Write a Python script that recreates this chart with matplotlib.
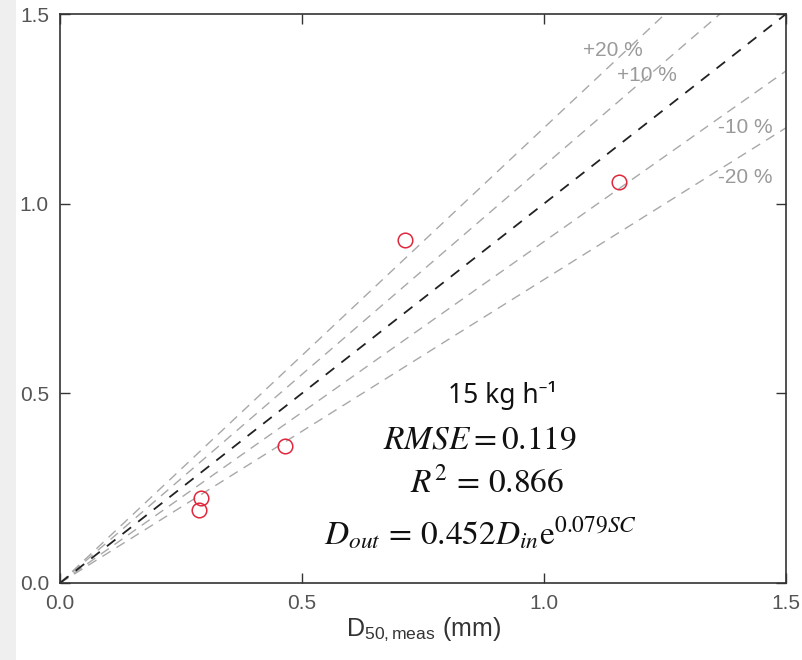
import matplotlib
matplotlib.use('Agg')
import numpy as np
import matplotlib.pyplot as plt
from matplotlib.patches import Rectangle

plt.rcParams['font.family'] = ['Liberation Sans', 'DejaVu Sans']
plt.rcParams['mathtext.fontset'] = 'stix'

# Medidos vs. previstos (mm)
d50_meas = [1.155, 0.713, 0.465, 0.291, 0.287]
d50_pred = [1.057, 0.904, 0.361, 0.224, 0.192]

# Faixas de erro relativo em torno da linha 1:1
faixas = [0.20, 0.10, -0.10, -0.20]
rotulos_faixas = ['+20 %', '+10 %', '-10 %', '-20 %']
pos_rotulos = [(1.143, 1.405), (1.213, 1.339), (1.415, 1.202), (1.415, 1.070)]

ticks = [0.0, 0.5, 1.0, 1.5]
tick_labels = ['0.0', '0.5', '1.0', '1.5']

fig = plt.figure(figsize=(8.03, 6.60), dpi=100)
fig.patches.append(Rectangle((0, 0), 16 / 803, 1, transform=fig.transFigure,
                             facecolor='#efefef', edgecolor='none', zorder=0))
ax = fig.add_axes([60 / 803, 77 / 660, 726 / 803, 569 / 660])

x = np.linspace(0, 1.5, 200)
for f in faixas:
    ax.plot(x, x * (1 + f), color='#a8a8a8', lw=1.0, dashes=(7, 5), zorder=1)
ax.plot(x, x, color='#222222', lw=1.3, dashes=(6, 5), zorder=2)

for txt, (tx, ty) in zip(rotulos_faixas, pos_rotulos):
    ax.text(tx, ty, txt, color='#9a9a9a', fontsize=15, ha='center', va='center')

ax.plot(d50_meas, d50_pred, 'o', mfc='none', mec='#e0283c', mew=1.1, ms=10.5, zorder=3)

# Anotações do ajuste
ax.text(0.913, 0.475, '15 kg h\u207b\u00b9', fontsize=19, family=['Noto Sans', 'DejaVu Sans'],
        ha='center', va='baseline', color='#111111')
ax.text(0.868, 0.353, r'$RMSE = 0.119$', fontsize=24, ha='center', va='baseline', color='#111111')
ax.text(0.882, 0.240, r'$R^2\,=\,0.866$', fontsize=24, ha='center', va='baseline', color='#111111')
ax.text(0.868, 0.100, r'$D_{out}\,=\,0.452D_{in}\mathrm{e}^{0.079SC}$', fontsize=24,
        ha='center', va='baseline', color='#111111')

ax.set_xlim(0, 1.5)
ax.set_ylim(0, 1.5)
ax.set_xticks(ticks)
ax.set_xticklabels(tick_labels)
ax.set_yticks(ticks)
ax.set_yticklabels(tick_labels)
ax.tick_params(direction='in', length=7, width=1, top=True, right=True,
               labelsize=15, labelcolor='#555555', color='#333333', pad=8)
for s in ax.spines.values():
    s.set_color('#333333')
    s.set_linewidth(1.2)

ax.set_xlabel(r'D$_{\mathregular{50,meas}}$ (mm)', fontsize=18, color='#333333', labelpad=2)

fig.savefig('out.png', dpi=100)
